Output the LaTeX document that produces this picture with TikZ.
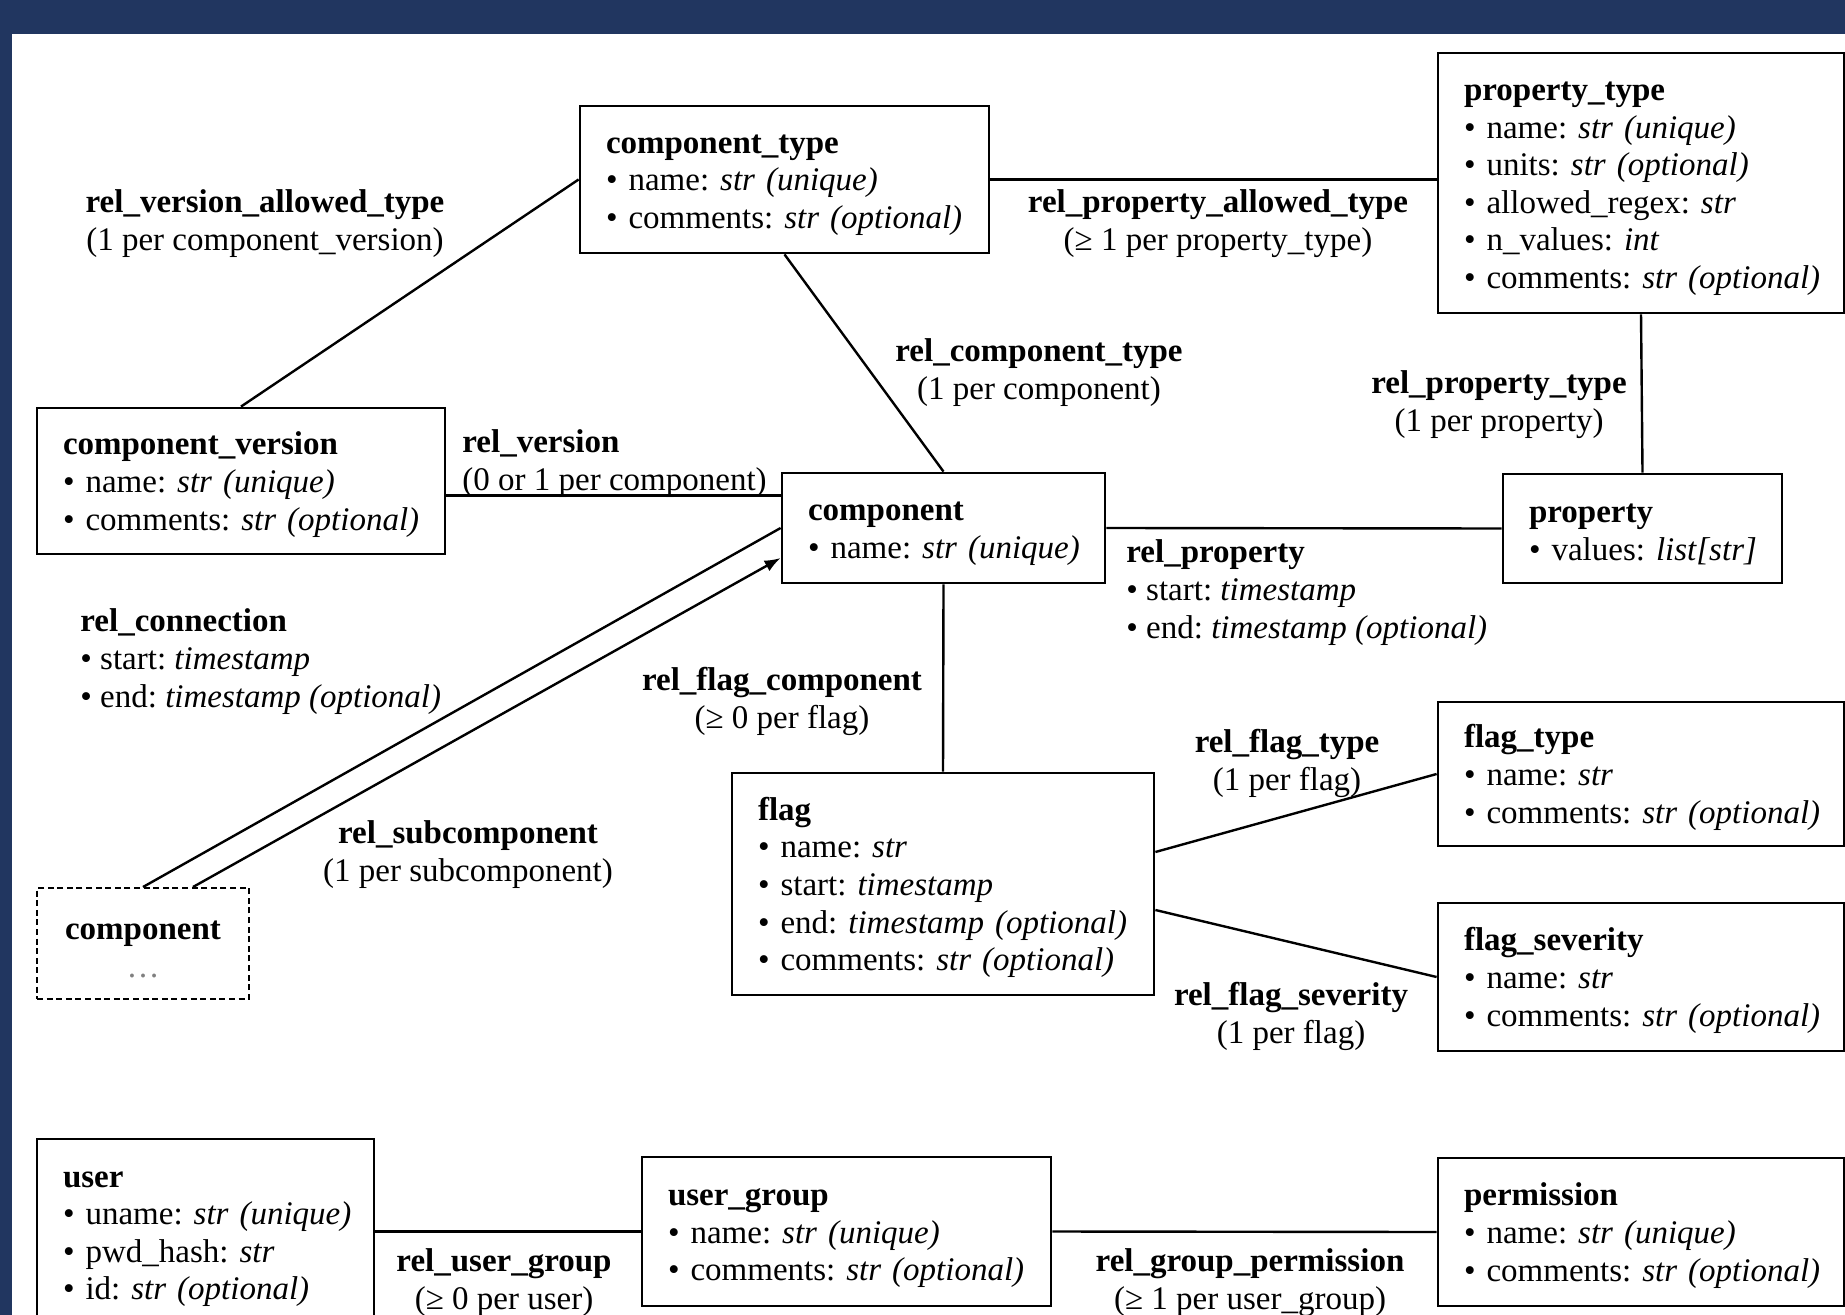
\documentclass[tikz,border=0pt]{standalone}
\usepackage{fontspec}
\setmainfont{Liberation Serif}
\usetikzlibrary{arrows.meta,calc}
\definecolor{navy}{RGB}{33,54,96}
\newcommand\attr[2]{\mbox{•~#1: \textit{#2}}}
\newcommand\hdr[1]{\rule{0pt}{15pt}\textbf{#1}}
\begin{document}
\frenchspacing
\begin{tikzpicture}[x=0.5pt,y=-0.5pt,
  every node/.style={font=\fontsize{16.5}{18.8}\selectfont\frenchspacing},
  ent/.style={draw, line width=1.4pt, fill=white, align=left, inner xsep=13pt, inner ysep=0pt},
  lbl/.style={align=center, inner sep=0pt},
  lbll/.style={align=left, inner sep=0pt, anchor=west},
  conn/.style={line width=1.2pt}]
\path[use as bounding box] (0,0) rectangle (1845,1315);
\clip (0,0) rectangle (1845,1315);
\fill[navy] (0,0) rectangle (1845,1315);
\fill[white] (12,34) rectangle (1845,1315);

% entities
\node[ent, text width=178.5pt, minimum height=73.5pt] (ct) at (784.5,179.5)
  {\hdr{component\_type}\\ \attr{name}{str (unique)}\\ \attr{comments}{str (optional)}};
\node[ent, text width=177pt, minimum height=130pt] (pt) at (1641,183)
  {\hdr{property\_type}\\ \attr{name}{str (unique)}\\ \attr{units}{str (optional)}\\ \attr{allowed\_regex}{str}\\ \attr{n\_values}{int}\\ \attr{comments}{str (optional)}};
\node[ent, text width=178pt, minimum height=73pt] (cv) at (241,481)
  {\hdr{component\_version}\\ \attr{name}{str (unique)}\\ \attr{comments}{str (optional)}};
\node[ent, text width=135.5pt, minimum height=55pt] (comp) at (943.5,528)
  {\hdr{component}\\ \attr{name}{str (unique)}};
\node[ent, text width=113.5pt, minimum height=54.5pt] (prop) at (1642.5,528.5)
  {\hdr{property}\\ \attr{values}{list[str]}};
\node[ent, text width=185pt, minimum height=111pt] (flag) at (943,884)
  {\hdr{flag}\\ \attr{name}{str}\\ \attr{start}{timestamp}\\ \attr{end}{timestamp (optional)}\\ \attr{comments}{str (optional)}};
\node[ent, text width=177pt, minimum height=72pt] (ft) at (1641,774)
  {\hdr{flag\_type}\\ \attr{name}{str}\\ \attr{comments}{str (optional)}};
\node[ent, text width=177pt, minimum height=74pt] (fs) at (1641,977)
  {\hdr{flag\_severity}\\ \attr{name}{str}\\ \attr{comments}{str (optional)}};
\node[ent, dashed, line width=1pt, dash pattern=on 3pt off 1.8pt, align=center, text width=80pt, minimum height=55.5pt] (sub) at (143,943.5)
  {\hdr{component}\\ {\color{gray}\dots}};
\node[ent, text width=142.5pt, minimum height=93pt] (user) at (205.5,1232)
  {\hdr{user}\\ \attr{uname}{str (unique)}\\ \attr{pwd\_hash}{str}\\ \attr{id}{str (optional)}};
\node[ent, text width=178.5pt, minimum height=74.5pt] (ug) at (846.5,1231.5)
  {\hdr{user\_group}\\ \attr{name}{str (unique)}\\ \attr{comments}{str (optional)}};
\node[ent, text width=177pt, minimum height=74pt] (perm) at (1641,1232)
  {\hdr{permission}\\ \attr{name}{str (unique)}\\ \attr{comments}{str (optional)}};

% connectors
\draw[conn] (cv.north) -- (ct.west);
\draw[conn] (ct.south) -- (comp.north);
\draw[conn] (ct.east) -- (ct.east -| pt.west);
\draw[conn] (pt.south) -- (prop.north);
\coordinate (rvA) at ([yshift=-12pt]comp.north west);
\draw[conn] (rvA -| cv.east) -- (rvA);
\draw[conn] (comp.east) -- (prop.west);
\draw[conn] (comp.south) -- (flag.north);
\draw[conn] ([yshift=16pt]flag.east) -- (ft.west);
\draw[conn] ([yshift=-13pt]flag.east) -- (fs.west);
\draw[conn] (sub.north) -- (comp.west);
\draw[conn, -{Latex[length=8pt,width=6pt]}] ([xshift=25pt]sub.north) -- ([yshift=-15pt]comp.west);
\draw[conn] (user.east |- ug.west) -- (ug.west);
\draw[conn] (ug.east) -- (perm.west);

% labels
\node[lbl] (lrvat) at (265,220) {\hdr{rel\_version\_allowed\_type}\\(1 per component\_version)};
\node[lbl] (lrpat) at (1218,220) {\hdr{rel\_property\_allowed\_type}\\(≥ 1 per property\_type)};
\node[lbl] (lrct) at (1039,369) {\hdr{rel\_component\_type}\\(1 per component)};
\node[lbl] (lrpt) at (1499,401) {\hdr{rel\_property\_type}\\(1 per property)};
\node[lbll] (lrv) at (462,460) {\hdr{rel\_version}\\(0 or 1 per component)};
\node[lbll] (lrp) at (1126,589) {\hdr{rel\_property}\\ \attr{start}{timestamp}\\ \attr{end}{timestamp (optional)}};
\node[lbll] (lrc) at (80,658) {\hdr{rel\_connection}\\ \attr{start}{timestamp}\\ \attr{end}{timestamp (optional)}};
\node[lbl] (lrfc) at (782,698) {\hdr{rel\_flag\_component}\\(≥ 0 per flag)};
\node[lbl] (lrsub) at (468,851) {\hdr{rel\_subcomponent}\\(1 per subcomponent)};
\node[lbl] (lrft) at (1287,760) {\hdr{rel\_flag\_type}\\(1 per flag)};
\node[lbl] (lrfs) at (1291,1013) {\hdr{rel\_flag\_severity}\\(1 per flag)};
\node[lbl] (lrug) at (504,1279) {\hdr{rel\_user\_group}\\(≥ 0 per user)};
\node[lbl] (lrgp) at (1250,1279) {\hdr{rel\_group\_permission}\\(≥ 1 per user\_group)};
\end{tikzpicture}
\end{document}
